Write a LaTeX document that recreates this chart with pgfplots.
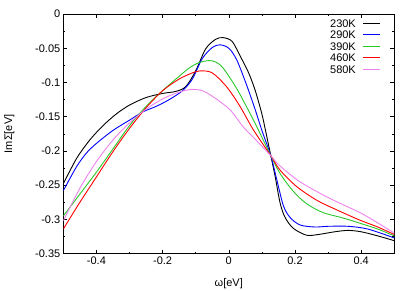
\documentclass[border=0pt]{standalone}
\usepackage{fontspec}
\setmainfont{Liberation Sans}
\usepackage{pgfplots}
\pgfplotsset{compat=1.18}
\definecolor{cgreen}{RGB}{40,200,40}
\definecolor{cpink}{RGB}{238,130,238}
\begin{document}
\begin{tikzpicture}
\path[use as bounding box] (-63.3pt,-37.3pt) rectangle (351.7pt,253.7pt);
\begin{axis}[
  at={(0,0)}, anchor=south west,
  scale only axis, width=331pt, height=239.7pt,
  xmin=-0.5, xmax=0.5, ymin=-0.35, ymax=0,
  xtick={-0.4,-0.2,0,0.2,0.4},
  ytick={-0.35,-0.3,-0.25,-0.2,-0.15,-0.1,-0.05,0},
  minor x tick num=1, minor y tick num=1,
  tick align=inside,
  major tick length=4pt, minor tick length=2pt,
  axis line style={line width=0.7pt},
  every tick/.style={black, line width=0.5pt},
  /pgf/number format/assume math mode=true,
  /pgf/number format/fixed,
  tick label style={font=\fontsize{11}{13}\selectfont},
  yticklabel style={xshift=0.5pt},
  xlabel={ω[eV]}, ylabel={ImΣ[eV]},
  every axis x label/.style={at={(axis description cs:0.5,0)}, yshift=-30.3pt, anchor=center, font=\fontsize{11}{13}\selectfont},
  every axis y label/.style={at={(axis description cs:0,0.5)}, xshift=-54pt, rotate=90, anchor=center, font=\fontsize{11}{13}\selectfont},
  legend plot pos=right,
  legend cell align=right,
  legend image code/.code={\draw[#1, line width=0.9pt] plot coordinates {(0pt,0pt) (8.75pt,0pt) (17.5pt,0pt)};},
  legend style={draw=none, fill=none, inner sep=0pt, outer sep=0pt,
    at={(axis description cs:0.959,0.980)}, anchor=north east,
    font=\fontsize{11}{13}\selectfont, row sep=2.5pt, column sep=6pt,
    nodes={inner sep=0.5pt, text height=8pt, text depth=0pt}},
  every axis plot/.append style={line width=0.9pt, no marks, smooth, tension=0.5},
]
\addplot[black] coordinates {
(-0.5,-0.248) (-0.46,-0.211) (-0.42,-0.184) (-0.38,-0.163) (-0.34,-0.146)
(-0.30,-0.133) (-0.25,-0.122) (-0.20,-0.116) (-0.16,-0.113) (-0.13,-0.106)
(-0.10,-0.083) (-0.07,-0.051) (-0.04,-0.037) (-0.017,-0.0345) (0.01,-0.040)
(0.035,-0.062) (0.06,-0.086) (0.08,-0.112) (0.10,-0.146) (0.11,-0.168)
(0.127,-0.207) (0.14,-0.237) (0.155,-0.276) (0.17,-0.297) (0.195,-0.313)
(0.235,-0.323) (0.27,-0.322) (0.32,-0.318) (0.36,-0.316) (0.40,-0.318)
(0.45,-0.324) (0.5,-0.331)};
\addlegendentry{230K}
\addplot[blue] coordinates {
(-0.5,-0.258) (-0.46,-0.223) (-0.43,-0.203) (-0.40,-0.189) (-0.35,-0.170)
(-0.30,-0.155) (-0.26,-0.143) (-0.22,-0.135) (-0.18,-0.125) (-0.14,-0.112)
(-0.11,-0.095) (-0.08,-0.065) (-0.05,-0.049) (-0.027,-0.045) (0.0,-0.050)
(0.024,-0.067) (0.054,-0.104) (0.08,-0.140) (0.10,-0.170) (0.127,-0.207)
(0.145,-0.242) (0.165,-0.280) (0.185,-0.297) (0.215,-0.308) (0.26,-0.311)
(0.30,-0.310) (0.36,-0.310) (0.42,-0.314) (0.5,-0.327)};
\addlegendentry{290K}
\addplot[cgreen] coordinates {
(-0.5,-0.295) (-0.45,-0.263) (-0.40,-0.231) (-0.35,-0.197) (-0.30,-0.163)
(-0.25,-0.135) (-0.20,-0.112) (-0.15,-0.091) (-0.12,-0.079)
(-0.09,-0.071) (-0.06,-0.068) (-0.04,-0.070) (-0.017,-0.079) (0.024,-0.109)
(0.064,-0.145) (0.09,-0.170) (0.127,-0.207) (0.155,-0.233) (0.195,-0.259)
(0.235,-0.277) (0.285,-0.290) (0.346,-0.298) (0.406,-0.307) (0.45,-0.314)
(0.5,-0.324)};
\addlegendentry{390K}
\addplot[red] coordinates {
(-0.5,-0.314) (-0.45,-0.275) (-0.40,-0.238) (-0.35,-0.201) (-0.30,-0.167)
(-0.25,-0.137) (-0.20,-0.112) (-0.15,-0.095) (-0.11,-0.086) (-0.085,-0.083)
(-0.05,-0.086) (-0.007,-0.106) (0.034,-0.135) (0.074,-0.169) (0.127,-0.207)
(0.155,-0.228) (0.205,-0.252) (0.266,-0.272) (0.326,-0.286) (0.396,-0.301)
(0.45,-0.311) (0.5,-0.322)};
\addlegendentry{460K}
\addplot[cpink] coordinates {
(-0.5,-0.302) (-0.45,-0.2545) (-0.40,-0.2155) (-0.35,-0.184) (-0.30,-0.159)
(-0.25,-0.139) (-0.20,-0.124) (-0.15,-0.114) (-0.11,-0.110) (-0.08,-0.112)
(-0.047,-0.121) (0.004,-0.140) (0.044,-0.165) (0.09,-0.188) (0.127,-0.207)
(0.155,-0.222) (0.215,-0.245) (0.30,-0.268) (0.396,-0.290) (0.45,-0.305)
(0.5,-0.320)};
\addlegendentry{580K}
\end{axis}
\end{tikzpicture}
\end{document}
